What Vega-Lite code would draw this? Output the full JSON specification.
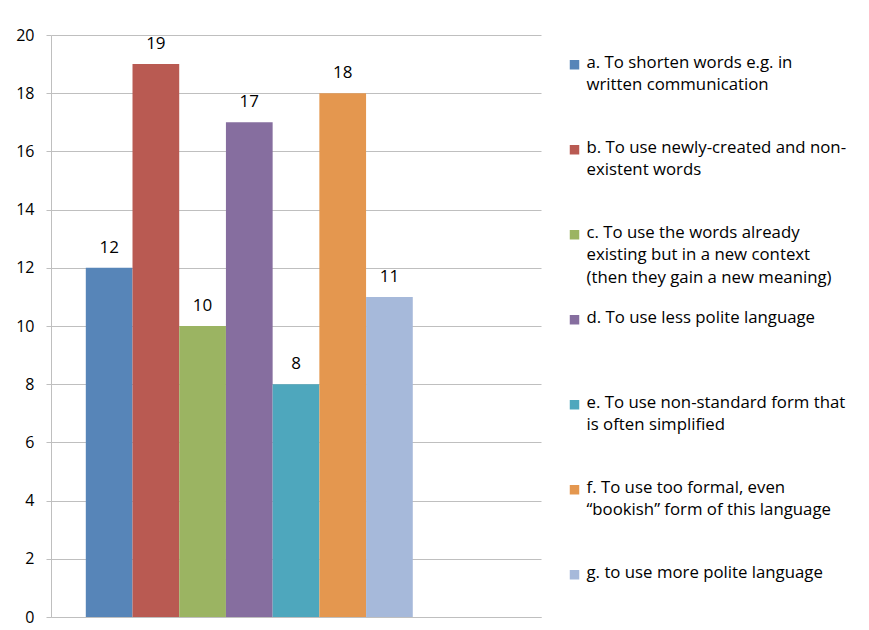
{
  "$schema": "https://vega.github.io/schema/vega-lite/v6.json",
  "background": "white",
  "padding": {"left": 15, "top": 27, "right": 0, "bottom": 5},
  "autosize": {"type": "pad"},
  "config": {"view": {"stroke": null}, "font": "Open Sans"},
  "datasets": {
    "answers": [
      {"key": "a", "value": 12, "text": "a. To shorten words e.g. in|written communication"},
      {"key": "b", "value": 19, "text": "b. To use newly-created and non-|existent words"},
      {"key": "c", "value": 10, "text": "c. To use the words already|existing but in a new context|(then they gain a new meaning)"},
      {"key": "d", "value": 17, "text": "d. To use less polite language"},
      {"key": "e", "value": 8, "text": " e. To use non-standard form that|is often simplified"},
      {"key": "f", "value": 18, "text": "f. To use too formal, even|“bookish” form of this language"},
      {"key": "g", "value": 11, "text": "g. to use more polite language"}
    ]
  },
  "data": {"name": "answers"},
  "bounds": "flush",
  "spacing": 28.5,
  "hconcat": [
    {
      "width": 490,
      "height": 582,
      "encoding": {
        "x": {
          "field": "key",
          "type": "nominal",
          "scale": {
            "domain": ["a", "b", "c", "d", "e", "f", "g", "h", "i"],
            "paddingInner": 0,
            "paddingOuter": 0.745,
            "align": 0.5
          },
          "axis": {"labels": false, "ticks": false, "title": null, "domainColor": "#BFBFBF"}
        },
        "y": {
          "field": "value",
          "type": "quantitative",
          "scale": {"domain": [0, 20]},
          "axis": {
            "title": null,
            "values": [0, 2, 4, 6, 8, 10, 12, 14, 16, 18, 20],
            "grid": true,
            "gridColor": "#BFBFBF",
            "domainColor": "#BFBFBF",
            "tickColor": "#BFBFBF",
            "tickSize": 5,
            "labelPadding": 12,
            "labelFontSize": 16,
            "labelColor": "#000000"
          }
        }
      },
      "layer": [
        {
          "mark": {"type": "bar"},
          "encoding": {
            "color": {
              "field": "key",
              "type": "nominal",
              "scale": {
                "domain": ["a", "b", "c", "d", "e", "f", "g"],
                "range": ["#5785B8", "#B95A52", "#9BB462", "#866E9F", "#4EA7BD", "#E4974F", "#A6B9DA"]
              },
              "legend": null
            }
          }
        },
        {
          "mark": {"type": "text", "baseline": "alphabetic", "dy": -15, "fontSize": 17, "color": "#000000"},
          "encoding": {"text": {"field": "value", "type": "quantitative"}}
        }
      ]
    },
    {
      "width": 10,
      "height": 569.5,
      "encoding": {
        "y": {
          "field": "key",
          "type": "nominal",
          "scale": {"type": "point", "padding": 0.35},
          "axis": null
        }
      },
      "layer": [
        {
          "mark": {"type": "square", "filled": true, "size": 90, "opacity": 1},
          "encoding": {
            "color": {
              "field": "key",
              "type": "nominal",
              "scale": {
                "domain": ["a", "b", "c", "d", "e", "f", "g"],
                "range": ["#5785B8", "#B95A52", "#9BB462", "#866E9F", "#4EA7BD", "#E4974F", "#A6B9DA"]
              },
              "legend": null
            }
          }
        },
        {
          "mark": {
            "type": "text",
            "align": "left",
            "baseline": "top",
            "dx": 12,
            "dy": -10,
            "fontSize": 16.8,
            "lineHeight": 22.7,
            "lineBreak": "|",
            "color": "#000000"
          },
          "encoding": {"text": {"field": "text", "type": "nominal"}}
        }
      ]
    }
  ]
}
